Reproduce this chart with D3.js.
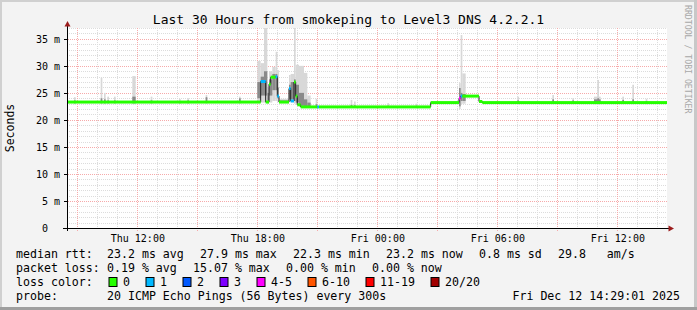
<!DOCTYPE html>
<html>
<head>
<meta charset="utf-8">
<script src="https://cdn.jsdelivr.net/npm/d3@7"></script>
<style>
  body { margin: 0; background: #f3f3f3; }
  svg { display: block; font-family: "DejaVu Sans Mono", monospace; }
</style>
</head>
<body>
<svg id="chart" width="697" height="310"></svg>
<script>
// times are "day HH:MM" in December 2025 (UTC)
const startTime = "11 08:29:01";
const endTime = "12 14:29:01";
const yTicks = [0, 5, 10, 15, 20, 25, 30, 35];
const yMax = 37;

// median rtt as steps: [start, ms, loss class]
const medianSteps = [
    ["11 08:29", 23.3, 0],
    ["11 18:10", 27.1, 1],
    ["11 18:25", 23.3, 0],
    ["11 18:35", 26.6, 0],
    ["11 18:40", 27.9, 0],
    ["11 18:55", 28.0, 1],
    ["11 19:00", 24.4, 1],
    ["11 19:05", 23.3, 0],
    ["11 19:35", 25.8, 1],
    ["11 19:40", 23.5, 1],
    ["11 19:50", 27.0, 0],
    ["11 19:55", 24.4, 0],
    ["11 20:00", 22.8, 0],
    ["11 20:10", 22.4, 0],
    ["11 21:00", 22.4, 1],
    ["11 21:05", 22.4, 0],
    ["12 02:40", 23.2, 0],
    ["12 04:05", 24.0, 4],
    ["12 04:10", 24.4, 1],
    ["12 04:15", 24.4, 0],
    ["12 05:05", 23.4, 0],
    ["12 05:15", 23.2, 0]
];

// smoke: [from, to, min, q1, q3, max] in ms
const smoke = [
    ["11 08:50", "11 08:55", 22.9, 23.1, 23.6, 24.2],
    ["11 10:10", "11 10:15", 22.9, 23.1, 24.0, 27.8],
    ["11 10:20", "11 10:25", 22.9, 23.1, 23.8, 25.0],
    ["11 10:30", "11 10:35", 23.0, 23.1, 23.6, 24.3],
    ["11 10:50", "11 10:55", 23.0, 23.1, 23.6, 24.3],
    ["11 11:45", "11 11:55", 22.9, 23.1, 24.3, 28.1],
    ["11 12:40", "11 12:45", 23.0, 23.1, 23.6, 24.3],
    ["11 14:05", "11 14:10", 23.0, 23.1, 23.5, 23.9],
    ["11 14:30", "11 14:35", 23.0, 23.1, 23.6, 24.0],
    ["11 15:25", "11 15:30", 23.0, 23.2, 24.2, 24.6],
    ["11 17:05", "11 17:10", 23.0, 23.2, 24.0, 24.3],
    ["11 18:00", "11 18:10", 23.1, 24.0, 27.0, 30.9],
    ["11 18:10", "11 18:20", 23.2, 24.5, 28.0, 30.5],
    ["11 18:20", "11 18:30", 23.2, 24.5, 29.0, 40.0],
    ["11 18:30", "11 18:35", 23.0, 23.3, 25.0, 26.0],
    ["11 18:35", "11 18:45", 23.2, 24.5, 27.5, 29.0],
    ["11 18:45", "11 18:55", 23.5, 25.5, 28.5, 29.8],
    ["11 18:55", "11 19:00", 23.5, 25.5, 28.5, 32.6],
    ["11 19:00", "11 19:05", 23.3, 24.0, 26.0, 29.2],
    ["11 19:05", "11 19:35", 23.1, 23.2, 23.6, 23.9],
    ["11 19:35", "11 19:40", 23.3, 23.8, 26.5, 28.3],
    ["11 19:40", "11 19:50", 23.3, 23.8, 27.0, 28.5],
    ["11 19:50", "11 19:55", 23.0, 23.5, 27.5, 40.0],
    ["11 19:55", "11 20:05", 22.8, 23.2, 26.5, 30.2],
    ["11 20:05", "11 20:20", 22.4, 22.6, 25.0, 30.0],
    ["11 20:20", "11 20:30", 22.3, 22.5, 23.8, 28.7],
    ["11 20:30", "11 20:40", 22.3, 22.4, 23.2, 24.5],
    ["11 20:55", "11 21:00", 22.2, 22.3, 22.9, 23.9],
    ["11 22:40", "11 22:45", 22.2, 22.3, 22.8, 23.7],
    ["11 22:50", "11 22:55", 22.2, 22.3, 22.7, 23.4],
    ["12 00:30", "12 00:35", 22.2, 22.3, 22.6, 23.1],
    ["12 01:55", "12 02:00", 22.2, 22.3, 22.6, 23.0],
    ["12 04:05", "12 04:10", 22.0, 22.5, 25.9, 26.8],
    ["12 04:10", "12 04:15", 22.9, 23.5, 25.0, 35.7],
    ["12 04:15", "12 04:25", 23.0, 23.5, 24.8, 28.6],
    ["12 07:00", "12 07:05", 22.9, 23.0, 23.6, 24.3],
    ["12 08:45", "12 08:50", 22.9, 23.0, 23.8, 24.6],
    ["12 09:45", "12 09:50", 22.9, 23.0, 23.6, 24.0],
    ["12 10:50", "12 11:10", 22.9, 23.0, 23.8, 24.3],
    ["12 11:00", "12 11:05", 22.9, 23.0, 24.0, 27.4],
    ["12 12:15", "12 12:20", 22.9, 23.0, 23.7, 24.3],
    ["12 12:45", "12 12:50", 22.9, 23.0, 23.8, 26.5],
    ["12 13:25", "12 13:30", 22.9, 23.0, 23.5, 23.9]
];

const lossLabels = ["0", "1", "2", "3", "4-5", "6-10", "11-19", "20/20"];
const lossColors = ["#26ff00", "#00b8ff", "#0059ff", "#7e00ff", "#ff00ff", "#ff5500", "#ff0000", "#a10000"];

const medianStats = ["23.2 ms avg", "27.9 ms max", "22.3 ms min", "23.2 ms now", "0.8 ms sd", "29.8   am/s"];
const lossStats = ["0.19 % avg", "15.07 % max", "0.00 % min", "0.00 % now"];
const probeText = "20 ICMP Echo Pings (56 Bytes) every 300s";
const stampText = "Fri Dec 12 14:29:01 2025";
const title = "Last 30 Hours from smokeping to Level3 DNS 4.2.2.1";

const parseT = s => {
    const [d, hm] = s.split(" ");
    const [h, m, sec] = hm.split(":").map(Number);
    return new Date(Date.UTC(2025, 11, +d, h, m, sec || 0));
};

const W = 697, H = 310;
const pLeft = 67, pRight = 667, pTop = 28, pBottom = 228;

const svg = d3.select("#chart");

// background and 3d frame
svg.append("rect").attr("width", W).attr("height", H).attr("fill", "#f3f3f3");
svg.append("rect").attr("x", 0).attr("y", 0).attr("width", W).attr("height", 2).attr("fill", "#d0d0d0");
svg.append("rect").attr("x", 0).attr("y", 0).attr("width", 2).attr("height", H).attr("fill", "#d0d0d0");
svg.append("rect").attr("x", W - 3).attr("y", 0).attr("width", 3).attr("height", H).attr("fill", "#c8c8c8");
svg.append("rect").attr("x", 0).attr("y", H - 3).attr("width", W).attr("height", 3).attr("fill", "#9f9f9f");

const x = d3.scaleUtc()
    .domain([parseT(startTime), parseT(endTime)])
    .range([pLeft, pRight]);

const y = d3.scaleLinear()
    .domain([0, yMax])
    .range([pBottom, pTop]);

// canvas
svg.append("rect")
    .attr("x", pLeft).attr("y", pTop)
    .attr("width", pRight - pLeft).attr("height", pBottom - pTop)
    .attr("fill", "#fff");

// grid
const hours = x.ticks(d3.utcHour.every(1));
const majorHours = x.ticks(d3.utcHour.every(3)).map(d => +d);
const grid = svg.append("g").attr("shape-rendering", "crispEdges");
const minorColor = "#dcdcdc", majorColor = "#f6aaaa";

grid.selectAll(".vminor")
    .data(hours.filter(d => !majorHours.includes(+d)))
    .join("line")
    .attr("x1", d => Math.round(x(d)) + 0.5).attr("x2", d => Math.round(x(d)) + 0.5)
    .attr("y1", pTop).attr("y2", pBottom + 2)
    .attr("stroke", minorColor).attr("stroke-dasharray", "1,1");

grid.selectAll(".hminor")
    .data(d3.range(1, yMax + 1).filter(v => v % 5 !== 0))
    .join("line")
    .attr("x1", pLeft).attr("x2", pRight)
    .attr("y1", d => Math.round(y(d)) + 0.5).attr("y2", d => Math.round(y(d)) + 0.5)
    .attr("stroke", minorColor).attr("stroke-dasharray", "1,1");

grid.selectAll(".vmajor")
    .data(majorHours)
    .join("line")
    .attr("x1", d => Math.round(x(d)) + 0.5).attr("x2", d => Math.round(x(d)) + 0.5)
    .attr("y1", pTop).attr("y2", pBottom + 3)
    .attr("stroke", majorColor).attr("stroke-dasharray", "1,1");

grid.selectAll(".hmajor")
    .data(yTicks.filter(v => v > 0))
    .join("line")
    .attr("x1", pLeft - 3).attr("x2", pRight)
    .attr("y1", d => Math.round(y(d)) + 0.5).attr("y2", d => Math.round(y(d)) + 0.5)
    .attr("stroke", majorColor).attr("stroke-dasharray", "1,1");

// smoke
svg.append("clipPath").attr("id", "clip")
    .append("rect").attr("x", pLeft).attr("y", pTop)
    .attr("width", pRight - pLeft).attr("height", pBottom - pTop);
const plot = svg.append("g").attr("clip-path", "url(#clip)");

plot.selectAll(".smokeOuter")
    .data(smoke)
    .join("rect")
    .attr("x", d => x(parseT(d[0])))
    .attr("width", d => x(parseT(d[1])) - x(parseT(d[0])))
    .attr("y", d => y(d[5]))
    .attr("height", d => y(d[2]) - y(d[5]))
    .attr("fill", "#d8d8d8");

plot.selectAll(".smokeInner")
    .data(smoke)
    .join("rect")
    .attr("x", d => x(parseT(d[0])))
    .attr("width", d => x(parseT(d[1])) - x(parseT(d[0])))
    .attr("y", d => y(d[4]))
    .attr("height", d => y(d[3]) - y(d[4]))
    .attr("fill", "#8a8a8a");

// median: black step line with loss coloured band on top
const medPts = medianSteps.map(d => [parseT(d[0]), d[1], d[2]]);
const ends = medPts.slice(1).map(d => d[0]).concat([parseT(endTime)]);

plot.append("path")
    .datum(medPts.concat([[parseT(endTime), medPts[medPts.length - 1][1]]]))
    .attr("d", d3.line().x(d => x(d[0])).y(d => y(d[1])).curve(d3.curveStepAfter))
    .attr("fill", "none")
    .attr("stroke", "#202020")
    .attr("stroke-width", 1);

plot.selectAll(".med")
    .data(medPts)
    .join("rect")
    .attr("x", d => x(d[0]))
    .attr("width", (d, i) => x(ends[i]) - x(d[0]))
    .attr("y", d => y(d[1]) - 1.5)
    .attr("height", 3)
    .attr("fill", d => lossColors[d[2]]);

// axes
const xAxis = d3.axisBottom(x)
    .tickValues(x.ticks(d3.utcHour.every(6)))
    .tickFormat(d3.utcFormat("%a %H:%M"))
    .tickSize(0)
    .tickPadding(7);

svg.append("g")
    .attr("transform", `translate(0,${pBottom})`)
    .call(xAxis)
    .call(g => g.select(".domain").remove())
    .selectAll("text")
    .attr("font-family", "DejaVu Sans Mono")
    .attr("font-size", 10)
    .attr("fill", "#000");

const yAxis = d3.axisLeft(y)
    .tickValues(yTicks)
    .tickFormat(d => d === 0 ? "0" : d + " m")
    .tickSize(0)
    .tickPadding(7);

svg.append("g")
    .attr("transform", `translate(${pLeft},0)`)
    .call(yAxis)
    .call(g => g.select(".domain").remove())
    .selectAll("text")
    .attr("font-family", "DejaVu Sans Mono")
    .attr("font-size", 10)
    .attr("fill", "#000")
    .attr("x", d => d === 0 ? -19 : -7);

svg.append("line")
    .attr("x1", pLeft - 4).attr("x2", pRight + 2)
    .attr("y1", pBottom + 0.5).attr("y2", pBottom + 0.5)
    .attr("stroke", "#000").attr("shape-rendering", "crispEdges");
svg.append("line")
    .attr("x1", pLeft + 0.5).attr("x2", pLeft + 0.5)
    .attr("y1", pBottom + 3).attr("y2", pTop - 2)
    .attr("stroke", "#000").attr("shape-rendering", "crispEdges");
svg.selectAll(".ytick")
    .data(yTicks)
    .join("line")
    .attr("x1", pLeft - 3).attr("x2", pLeft)
    .attr("y1", d => Math.round(y(d)) + 0.5).attr("y2", d => Math.round(y(d)) + 0.5)
    .attr("stroke", "#000").attr("shape-rendering", "crispEdges");

svg.append("path")
    .attr("d", `M${pLeft - 2.5},${pTop - 1.5}L${pLeft + 3.5},${pTop - 1.5}L${pLeft + 0.5},${pTop - 7}Z`)
    .attr("fill", "#9b1c1c");
svg.append("path")
    .attr("d", `M${pRight + 1.5},${pBottom - 2.5}L${pRight + 1.5},${pBottom + 3.5}L${pRight + 7},${pBottom + 0.5}Z`)
    .attr("fill", "#9b1c1c");

// titles
svg.append("text")
    .attr("x", W / 2).attr("y", 24)
    .attr("text-anchor", "middle")
    .attr("font-size", 13)
    .text(title);

svg.append("text")
    .attr("transform", `translate(14,${(pTop + pBottom) / 2}) rotate(-90)`)
    .attr("text-anchor", "middle")
    .attr("font-size", 11.5)
    .text("Seconds");

svg.append("text")
    .attr("transform", "translate(684.5,5) rotate(90)")
    .attr("font-size", 8.2)
    .attr("fill", "#a8a8a8")
    .text("RRDTOOL / TOBI OETIKER");

// legend
const cw = 7.0, gap = 16, col = 107;
const legend = svg.append("g").attr("font-size", 11.6).attr("fill", "#000");

function legendRow(label, items, yb) {
    legend.append("text").attr("x", 16).attr("y", yb).text(label);
    let cx = col;
    items.forEach(s => {
        legend.append("text").attr("x", cx).attr("y", yb).text(s).style("white-space", "pre");
        cx += s.length * cw + gap;
    });
}

legendRow("median rtt:", medianStats, 258);
legendRow("packet loss:", lossStats, 272);

legend.append("text").attr("x", 16).attr("y", 286).text("loss color:");
let bx = 108.5;
lossLabels.forEach((lab, i) => {
    legend.append("rect")
        .attr("x", bx + 0.5).attr("y", 277.5)
        .attr("width", 8).attr("height", 9)
        .attr("fill", lossColors[i]).attr("stroke", "#000");
    legend.append("text").attr("x", bx + 14.5).attr("y", 286).text(lab);
    bx += 14.5 + lab.length * cw + 15.5;
});

legendRow("probe:", [probeText], 300);
legend.append("text").attr("x", 680).attr("y", 300).attr("text-anchor", "end").text(stampText);
</script>
</body>
</html>
